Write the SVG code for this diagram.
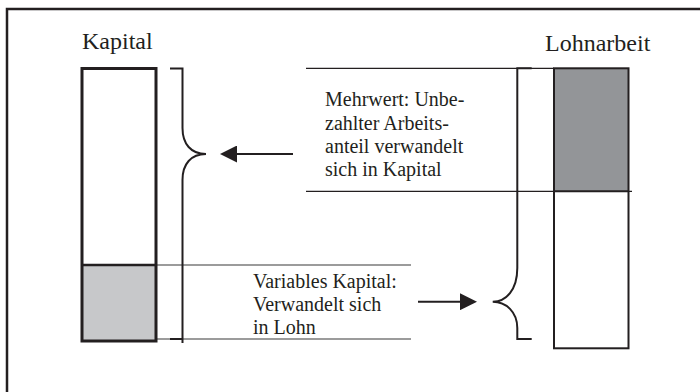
<svg xmlns="http://www.w3.org/2000/svg" width="700" height="392" viewBox="0 0 700 392">
  <style>
    .t { font-family: 'Liberation Serif', 'Times New Roman', serif; fill: #231f20; }
    .title { font-size: 24px; }
    .lbl { font-size: 20px; }
    .ln { stroke: #231f20; fill: none; }
    .thin { stroke: #231f20; stroke-width: 1.2; fill: none; }
    .gray { stroke: #7a7a7a; stroke-width: 1.5; fill: none; }
  </style>
  <defs>
    <marker id="ah" markerUnits="userSpaceOnUse" markerWidth="17" markerHeight="17" refX="7" refY="8.5" orient="auto">
      <path d="M0,0 L17,8.5 L0,17 z" fill="#231f20"/>
    </marker>
  </defs>
  <rect width="700" height="392" fill="#ffffff"/>
  <path d="M7,392 V9 H700" class="ln" stroke-width="2.5"/>

  <g id="connectors">
    <line x1="306" y1="68.3" x2="554" y2="68.3" class="thin"/>
    <line x1="306" y1="191.3" x2="632" y2="191.3" class="thin"/>
    <line x1="156" y1="265" x2="411" y2="265" class="gray"/>
    <line x1="156" y1="339" x2="411" y2="339" class="gray"/>
    <path d="M170,68.5 H182.5 V128 C182.5,144 191,154 206,154 C191,154 182.5,164 182.5,180 V343" class="ln" stroke-width="2"/>
    <path d="M170,339 H182.5" class="ln" stroke-width="2"/>
    <path d="M531.7,68.3 H517.3 V268 C517.3,290 506,301.7 492.7,301.7 C506,301.7 517.3,312 517.3,328 V339 H531.7" class="ln" stroke-width="2"/>
    <line x1="293" y1="154" x2="230" y2="154" class="ln" stroke-width="2" marker-end="url(#ah)"/>
    <line x1="418" y1="301.7" x2="467" y2="301.7" class="ln" stroke-width="2" marker-end="url(#ah)"/>
  </g>

  <g id="kapital">
    <text x="82" y="49" class="t title">Kapital</text>
    <rect x="82" y="68.5" width="74" height="272.5" fill="#ffffff"/>
    <rect x="82" y="265" width="74" height="76" fill="#c7c8ca"/>
    <rect x="82" y="68.5" width="74" height="272.5" class="ln" stroke-width="3"/>
    <line x1="82" y1="265" x2="156" y2="265" class="ln" stroke-width="2.5"/>
  </g>

  <g id="lohnarbeit">
    <text x="545" y="50.5" class="t title">Lohnarbeit</text>
    <rect x="554" y="68.3" width="74.5" height="280" fill="#ffffff"/>
    <rect x="554" y="68.3" width="74.5" height="123" fill="#939598"/>
    <rect x="554" y="68.3" width="74.5" height="280" class="ln" stroke-width="2"/>
    <line x1="554" y1="191.3" x2="628.5" y2="191.3" class="ln" stroke-width="2"/>
  </g>

  <g id="mehrwert">
    <text class="t lbl" x="325" y="106">Mehrwert: Unbe-</text>
    <text class="t lbl" x="325" y="129.5">zahlter Arbeits-</text>
    <text class="t lbl" x="325" y="153">anteil verwandelt</text>
    <text class="t lbl" x="325" y="176">sich in Kapital</text>
  </g>

  <g id="variables">
    <text class="t lbl" x="253" y="288">Variables Kapital:</text>
    <text class="t lbl" x="253" y="311">Verwandelt sich</text>
    <text class="t lbl" x="253" y="334">in Lohn</text>
  </g>
</svg>
